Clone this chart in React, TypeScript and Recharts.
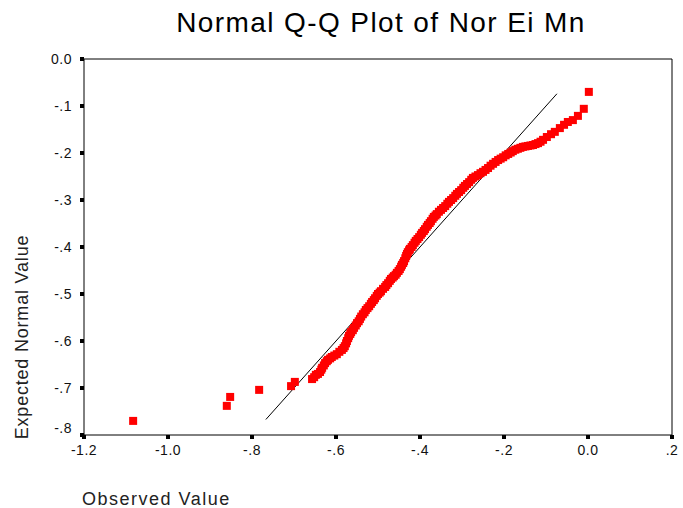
import {
  ReferenceLine,
  Scatter,
  ScatterChart,
  XAxis,
  YAxis,
} from "recharts";

// sorted observed values and the matching expected normal quantiles
const observedValues = [
  -1.083, -0.86, -0.852, -0.783, -0.707, -0.698,
  -0.657, -0.652, -0.648, -0.643, -0.638, -0.635, -0.633, -0.629, -0.626, -0.622,
  -0.619, -0.614, -0.61, -0.604, -0.598, -0.592, -0.586, -0.582, -0.579, -0.576,
  -0.574, -0.571, -0.569, -0.566, -0.564, -0.56, -0.557, -0.553, -0.55, -0.546,
  -0.543, -0.54, -0.536, -0.532, -0.529, -0.525, -0.521, -0.517, -0.514, -0.51,
  -0.507, -0.503, -0.5, -0.496, -0.493, -0.488, -0.483, -0.48, -0.476, -0.472,
  -0.469, -0.465, -0.462, -0.458, -0.455, -0.451, -0.448, -0.445, -0.443, -0.44,
  -0.438, -0.435, -0.433, -0.431, -0.429, -0.426, -0.424, -0.42, -0.417, -0.413,
  -0.41, -0.406, -0.402, -0.398, -0.395, -0.391, -0.388, -0.384, -0.381, -0.377,
  -0.374, -0.37, -0.367, -0.363, -0.36, -0.355, -0.35, -0.345, -0.34, -0.335,
  -0.331, -0.326, -0.321, -0.316, -0.312, -0.307, -0.302, -0.297, -0.293, -0.288,
  -0.283, -0.278, -0.274, -0.268, -0.262, -0.256, -0.25, -0.244, -0.238, -0.232,
  -0.226, -0.22, -0.214, -0.208, -0.202, -0.196, -0.19, -0.184, -0.179, -0.173,
  -0.167, -0.161, -0.155, -0.149, -0.143, -0.137, -0.131, -0.125, -0.119, -0.113,
  -0.107, -0.098, -0.088, -0.079, -0.067, -0.057, -0.048, -0.036, -0.024, -0.01,
  0.002,
];

const expectedValues = [
  -0.77, -0.738, -0.719, -0.704, -0.696, -0.687,
  -0.681, -0.677, -0.672, -0.67, -0.666, -0.661, -0.657, -0.652, -0.647, -0.643,
  -0.64, -0.637, -0.634, -0.631, -0.628, -0.623, -0.619, -0.615, -0.611, -0.605,
  -0.6, -0.594, -0.589, -0.585, -0.581, -0.577, -0.572, -0.567, -0.562, -0.558,
  -0.553, -0.548, -0.543, -0.539, -0.534, -0.53, -0.526, -0.521, -0.517, -0.513,
  -0.509, -0.504, -0.5, -0.497, -0.494, -0.489, -0.485, -0.481, -0.477, -0.472,
  -0.468, -0.465, -0.462, -0.459, -0.455, -0.451, -0.447, -0.442, -0.438, -0.434,
  -0.43, -0.424, -0.419, -0.415, -0.411, -0.407, -0.404, -0.4, -0.396, -0.391,
  -0.387, -0.383, -0.379, -0.374, -0.37, -0.366, -0.362, -0.357, -0.353, -0.349,
  -0.345, -0.34, -0.336, -0.333, -0.33, -0.325, -0.321, -0.317, -0.313, -0.308,
  -0.304, -0.3, -0.296, -0.291, -0.287, -0.283, -0.279, -0.274, -0.27, -0.266,
  -0.262, -0.257, -0.253, -0.25, -0.247, -0.243, -0.24, -0.236, -0.232, -0.227,
  -0.223, -0.219, -0.215, -0.212, -0.209, -0.205, -0.202, -0.199, -0.196, -0.193,
  -0.191, -0.189, -0.187, -0.186, -0.185, -0.184, -0.183, -0.181, -0.179, -0.176,
  -0.172, -0.166, -0.16, -0.155, -0.147, -0.14, -0.134, -0.13, -0.121, -0.106,
  -0.07,
];

// ends of the y = x reference line
const lineStart = -0.767;
const lineEnd = -0.074;

const xTicks = [-1.2, -1.0, -0.8, -0.6, -0.4, -0.2, 0, 0.2];
const xTickLabels = ["-1.2", "-1.0", "-.8", "-.6", "-.4", "-.2", "0.0", ".2"];
const yTicks = [0, -0.1, -0.2, -0.3, -0.4, -0.5, -0.6, -0.7, -0.8];
const yTickLabels = ["0.0", "-.1", "-.2", "-.3", "-.4", "-.5", "-.6", "-.7", "-.8"];

const data = observedValues.map((observed, i) => ({
  observed,
  expected: expectedValues[i],
}));

const FONT = "Arial, 'Liberation Sans', sans-serif";

const labelFor = (ticks: number[], labels: string[], v: number) => {
  const i = ticks.findIndex((t) => Math.abs(t - v) < 1e-9);
  return i >= 0 ? labels[i] : String(v);
};

const SquareDot = (props: any) => {
  const { cx, cy } = props;
  if (cx == null || cy == null) return null;
  return <rect x={cx - 4} y={cy - 4} width={8} height={8} fill="#ff0000" />;
};

const YTick = (props: any) => {
  const { x, y, payload } = props;
  // bottom label sits a little higher so it clears the x axis
  const lift = payload.value <= -0.8 ? -7 : 0;
  return (
    <text
      x={x}
      y={y + lift}
      dy="0.355em"
      textAnchor="end"
      fill="#111"
      fontSize={14}
      fontFamily={FONT}
      letterSpacing={0.5}
    >
      {labelFor(yTicks, yTickLabels, payload.value)}
    </text>
  );
};

export default function App() {
  return (
    <div
      style={{
        position: "absolute",
        left: 0,
        top: 0,
        width: 683,
        height: 508,
        background: "#fff",
        fontFamily: FONT,
        color: "#000",
      }}
    >
      <div
        style={{
          position: "absolute",
          left: 84,
          top: 9,
          width: 594,
          textAlign: "center",
          fontSize: 28,
          lineHeight: "28px",
          letterSpacing: 1.4,
        }}
      >
        Normal Q-Q Plot of Nor Ei Mn
      </div>
      <div
        style={{
          position: "absolute",
          left: 22 - 130,
          top: 337 - 10,
          width: 260,
          height: 20,
          lineHeight: "20px",
          textAlign: "center",
          fontSize: 18,
          letterSpacing: 0.8,
          color: "#222",
          transform: "rotate(-90deg)",
        }}
      >
        Expected Normal Value
      </div>
      <div
        style={{
          position: "absolute",
          left: 82,
          top: 490,
          fontSize: 18,
          lineHeight: "18px",
          letterSpacing: 1.5,
          color: "#222",
        }}
      >
        Observed Value
      </div>
      <ScatterChart
        width={683}
        height={508}
        margin={{ top: 59, right: 11, bottom: 0, left: 0 }}
      >
        <XAxis
          type="number"
          dataKey="observed"
          domain={[-1.2, 0.2]}
          ticks={xTicks}
          allowDataOverflow
          height={73}
          tickSize={4}
          tickMargin={6}
          axisLine={{ stroke: "#000" }}
          tickLine={{ stroke: "#000", strokeWidth: 4 }}
          tick={{ fill: "#111", fontSize: 14, fontFamily: FONT, letterSpacing: 0.5 }}
          tickFormatter={(v: number) => labelFor(xTicks, xTickLabels, v)}
        />
        <YAxis
          type="number"
          dataKey="expected"
          domain={[-0.8, 0]}
          ticks={yTicks}
          allowDataOverflow
          width={84}
          tickSize={4}
          tickMargin={8}
          axisLine={{ stroke: "#000" }}
          tickLine={{ stroke: "#000", strokeWidth: 4 }}
          tick={<YTick />}
        />
        {/* frame on the top and right of the plot */}
        <ReferenceLine y={0} stroke="#000" />
        <ReferenceLine x={0.2} stroke="#000" />
        <Scatter data={data} shape={<SquareDot />} isAnimationActive={false} />
        <ReferenceLine
          segment={[
            { x: lineStart, y: lineStart },
            { x: lineEnd, y: lineEnd },
          ]}
          stroke="#000"
          strokeWidth={1}
        />
      </ScatterChart>
    </div>
  );
}
